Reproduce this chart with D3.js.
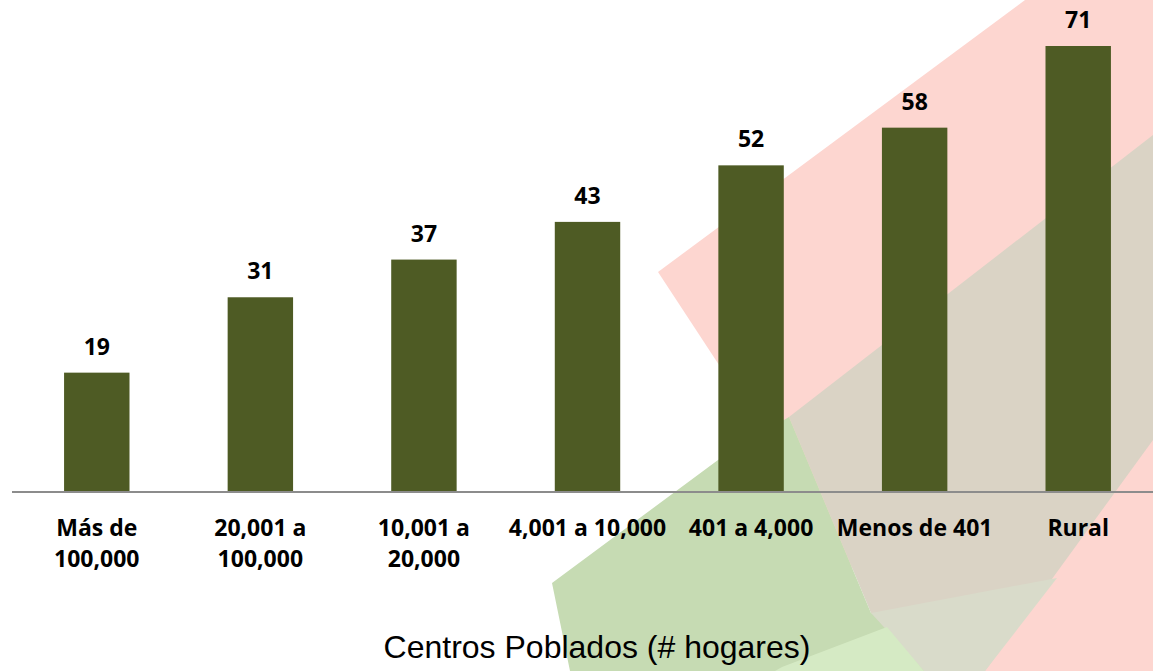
<!DOCTYPE html>
<html>
<head>
<meta charset="utf-8">
<script src="https://cdnjs.cloudflare.com/ajax/libs/d3/7.8.5/d3.min.js"></script>
<style>
  body { margin: 0; background: #fff; }
  svg { display: block; }
</style>
</head>
<body>
<script>
// categories (line breaks with "|") and values
let categories = ["Más de|100,000", "20,001 a|100,000", "10,001 a|20,000", "4,001 a 10,000", "401 a 4,000", "Menos de 401", "Rural"];
let values = [19, 31, 37, 43, 52, 58, 71];
let axisTitle = "Centros Poblados (# hogares)";

let svgWidth = 1153;
let svgHeight = 671;

let svg = d3.select("body")
  .append("svg")
  .attr("width", svgWidth)
  .attr("height", svgHeight);

// decorative background shapes
let bg = svg.append("g");
bg.append("polygon")
  .attr("points", "658,272 1025,0 1153,0 1153,671 920,671")
  .attr("fill", "#fdd6d0");
bg.append("polygon")
  .attr("points", "789,417 1153,135 1153,440 985,671 900,671 871,613")
  .attr("fill", "#dad3c5");
bg.append("polygon")
  .attr("points", "871,613 1057,578 985,671 924,671")
  .attr("fill", "#d9dbca");
bg.append("polygon")
  .attr("points", "552,583 718,460 789,417 871,613 924,671 570,671")
  .attr("fill", "#c6dbb3");
bg.append("polygon")
  .attr("points", "782,667 887,627 924,671 775,671")
  .attr("fill", "#d5eac4");

// scales
let x = d3.scaleBand()
  .domain(categories)
  .range([15, 1160])
  .paddingInner(0.6)
  .paddingOuter(0.3);

let y = d3.scaleLinear()
  .domain([0, d3.max(values)])
  .range([492, 46]);

// bars
svg.selectAll(".bar")
  .data(values)
  .enter()
  .append("rect")
  .attr("x", (d, i) => x(categories[i]))
  .attr("y", d => y(d))
  .attr("width", x.bandwidth())
  .attr("height", d => y(0) - y(d))
  .attr("fill", "#4e5b24");

// value labels
svg.selectAll(".val")
  .data(values)
  .enter()
  .append("text")
  .attr("x", (d, i) => x(categories[i]) + x.bandwidth() / 2)
  .attr("y", d => y(d) - 18)
  .attr("text-anchor", "middle")
  .style("font-family", "'Open Sans', sans-serif")
  .style("font-weight", "bold")
  .style("font-size", "23px")
  .style("fill", "#000")
  .text(d => d);

// bottom axis: baseline only, custom labels
let xAxis = d3.axisBottom(x).tickSize(0).tickFormat("");
let axisG = svg.append("g")
  .attr("transform", `translate(0, ${y(0)})`)
  .call(xAxis);
axisG.select(".domain").remove();
axisG.append("line")
  .attr("x1", 12)
  .attr("x2", svgWidth)
  .attr("stroke", "#8c8c8c")
  .attr("stroke-width", 2);

let labels = svg.selectAll(".cat")
  .data(categories)
  .enter()
  .append("text")
  .attr("text-anchor", "middle")
  .style("font-family", "'Open Sans', sans-serif")
  .style("font-weight", "bold")
  .style("font-size", "23px")
  .style("fill", "#000");

labels.each(function (d) {
  let cx = x(d) + x.bandwidth() / 2;
  d.split("|").forEach((line, k) => {
    d3.select(this).append("tspan")
      .attr("x", cx)
      .attr("y", 536 + k * 31)
      .text(line);
  });
});

// axis title
svg.append("text")
  .attr("x", 597)
  .attr("y", 658)
  .attr("text-anchor", "middle")
  .style("font-family", "'Liberation Sans', Arial, sans-serif")
  .style("font-size", "32px")
  .style("fill", "#000")
  .text(axisTitle);
</script>
</body>
</html>
